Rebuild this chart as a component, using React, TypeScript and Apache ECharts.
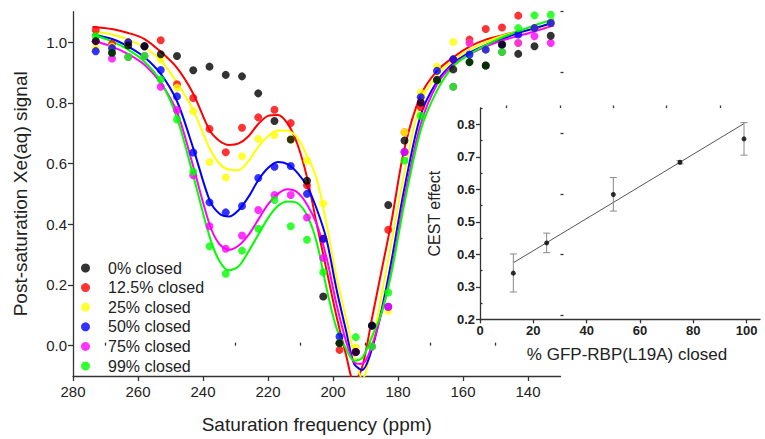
import React, { useEffect, useRef } from 'react';
import * as echarts from 'echarts';

const FONT = '"Liberation Sans", Arial, Helvetica, sans-serif';
const TXT = '#222';

// ---- Main chart: measured points (ppm) ----
const freq = [273, 268, 263, 258, 253, 248, 243, 238, 233, 228, 223, 218, 213, 208, 203, 198, 193, 188, 183, 178, 173, 168, 163, 158, 153, 148, 143, 138, 133];
const black0 = [1.003, 0.965, 0.989, 0.986, 0.960, 0.954, 0.907, 0.919, 0.892, 0.887, 0.831, 0.740, 0.679, 0.543, 0.162, 0.008, -0.021, 0.066, 0.463, 0.676, 0.801, 0.875, 0.910, 0.934, 0.923, 0.992, 0.961, 0.986, 1.021];
const red12 = [1.040, 0.994, 0.999, 0.986, 1.006, 0.861, 0.816, 0.714, 0.637, 0.718, 0.752, 0.777, 0.733, 0.528, 0.352, -0.014, -0.021, 0.066, 0.382, 0.703, 0.785, 0.875, 0.943, 1.008, 1.043, 1.048, 1.087, 1.046, 1.063];
const yellow25 = [0.981, 0.985, 0.995, 0.986, 0.943, 0.850, 0.772, 0.605, 0.554, 0.624, 0.681, 0.694, 0.679, 0.610, 0.468, 0.008, -0.006, 0.066, 0.115, 0.703, 0.834, 0.919, 1.000, 0.997, 0.975, 0.992, 0.997, 1.046, 1.063];
const blue50 = [0.970, 0.980, 0.999, 0.986, 0.908, 0.821, 0.636, 0.472, 0.439, 0.460, 0.552, 0.589, 0.592, 0.500, 0.352, 0.030, -0.021, 0.066, 0.128, 0.638, 0.818, 0.905, 0.943, 0.959, 0.975, 0.992, 1.025, 1.046, 1.063];
const magenta75 = [1.003, 0.946, 0.951, 0.954, 0.853, 0.776, 0.561, 0.393, 0.319, 0.363, 0.447, 0.496, 0.496, 0.422, 0.289, 0.008, -0.021, -0.003, 0.128, 0.638, 0.801, 0.875, 0.853, 0.997, 0.923, 0.967, 0.997, 1.019, 0.997];
const green99 = [1.019, 0.965, 0.951, 0.954, 0.877, 0.745, 0.573, 0.327, 0.237, 0.313, 0.385, 0.480, 0.393, 0.349, 0.242, 0.008, 0.028, -0.003, 0.175, 0.610, 0.757, 0.875, 0.853, 0.934, 0.923, 0.967, 1.046, 1.088, 1.090];

// ---- Main chart: fitted curves ----
const fitFreq = [274, 268, 263, 258, 253, 248, 243, 238, 235, 232, 229, 226, 223, 220, 217, 214, 211, 208, 205, 202, 199, 196, 193.5, 191, 188, 185, 182, 178, 173, 168, 163, 158, 153, 148, 143, 138, 132];
const fitRed = [1.050, 1.043, 1.030, 1.010, 0.968, 0.915, 0.830, 0.710, 0.675, 0.661, 0.666, 0.690, 0.730, 0.757, 0.760, 0.732, 0.665, 0.555, 0.400, 0.250, 0.100, -0.030, -0.120, -0.070, 0.090, 0.250, 0.410, 0.650, 0.825, 0.905, 0.950, 0.985, 1.008, 1.022, 1.035, 1.045, 1.055];
const fitYellow = [1.035, 1.025, 1.008, 0.982, 0.940, 0.866, 0.775, 0.650, 0.600, 0.580, 0.578, 0.608, 0.655, 0.690, 0.709, 0.708, 0.685, 0.625, 0.550, 0.400, 0.230, 0.090, -0.030, -0.110, 0.000, 0.170, 0.340, 0.570, 0.800, 0.890, 0.940, 0.975, 1.000, 1.020, 1.035, 1.045, 1.055];
const fitBlue = [1.025, 1.010, 0.985, 0.950, 0.895, 0.805, 0.650, 0.480, 0.435, 0.425, 0.447, 0.490, 0.545, 0.585, 0.605, 0.598, 0.570, 0.525, 0.450, 0.350, 0.190, 0.050, -0.060, -0.080, -0.010, 0.120, 0.280, 0.520, 0.760, 0.870, 0.930, 0.965, 0.990, 1.010, 1.030, 1.045, 1.065];
const fitMagenta = [1.005, 0.985, 0.960, 0.925, 0.865, 0.770, 0.590, 0.400, 0.335, 0.316, 0.330, 0.365, 0.415, 0.465, 0.500, 0.515, 0.505, 0.465, 0.400, 0.290, 0.140, 0.015, -0.055, -0.060, 0.000, 0.110, 0.250, 0.490, 0.730, 0.860, 0.925, 0.960, 0.985, 1.005, 1.020, 1.035, 1.055];
const fitGreen = [1.025, 1.002, 0.975, 0.935, 0.870, 0.750, 0.560, 0.360, 0.280, 0.248, 0.262, 0.310, 0.365, 0.420, 0.460, 0.475, 0.470, 0.430, 0.340, 0.190, 0.060, -0.010, -0.050, -0.040, 0.030, 0.110, 0.240, 0.470, 0.710, 0.840, 0.920, 0.960, 0.990, 1.015, 1.035, 1.055, 1.075];

const xTicks = [280, 260, 240, 220, 200, 180, 160, 140];
const xMinor = [270, 250, 230, 210, 190, 170, 150];
const yTicks = [0, 0.2, 0.4, 0.6, 0.8, 1.0];
const yMinor = [0.1, 0.3, 0.5, 0.7, 0.9, 1.1];

// ---- Inset ----
const pct = [12.5, 25, 50, 75, 99];
const cest = [0.342, 0.435, 0.584, 0.683, 0.755];
const cestLow = [0.284, 0.405, 0.533, 0.678, 0.705];
const cestHigh = [0.401, 0.465, 0.636, 0.688, 0.805];
const fitPct = [12.5, 99];
const fitCest = [0.374, 0.802];
const insetXTicks = [0, 20, 40, 60, 80, 100];
const insetXMinor = [10, 30, 50, 70, 90];
const insetYTicks = [0.2, 0.3, 0.4, 0.5, 0.6, 0.7, 0.8];
const insetYMinor = [0.25, 0.35, 0.45, 0.55, 0.65, 0.75, 0.85];

const seriesDefs = [
  { name: '0% closed', color: '#000000', pts: black0, fit: null as number[] | null },
  { name: '12.5% closed', color: '#ff0000', pts: red12, fit: fitRed },
  { name: '25% closed', color: '#ffff00', pts: yellow25, fit: fitYellow },
  { name: '50% closed', color: '#0000ff', pts: blue50, fit: fitBlue },
  { name: '75% closed', color: '#ff00ff', pts: magenta75, fit: fitMagenta },
  { name: '99% closed', color: '#00ff00', pts: green99, fit: fitGreen },
];

export default function App() {
  const ref = useRef<HTMLDivElement>(null);
  useEffect(() => {
    if (!ref.current) return;
    const chart = echarts.init(ref.current, undefined, { renderer: 'svg' });
    const axisLineStyle = { color: '#333', width: 1.3 };

    const lineSeries: any[] = seriesDefs
      .filter((s) => s.fit)
      .map((s) => ({
        type: 'line',
        name: s.name + ' fit',
        xAxisIndex: 0,
        yAxisIndex: 0,
        data: fitFreq.map((f, i) => [f, (s.fit as number[])[i]]),
        smooth: 0.3,
        showSymbol: false,
        symbol: 'none',
        lineStyle: { color: s.color, width: 2 },
        clip: true,
        z: 2,
      }));

    const drawOrder = [1, 2, 3, 4, 5, 0];
    const scatterSeries: any[] = drawOrder.map((idx) => {
      const s = seriesDefs[idx];
      return {
        type: 'scatter',
        name: s.name,
        xAxisIndex: 0,
        yAxisIndex: 0,
        data: freq.map((f, i) => [f, s.pts[i]]),
        symbol: 'circle',
        symbolSize: 8,
        itemStyle: { color: s.color },
        z: 3,
      };
    });

    const option: any = {
      animation: false,
      backgroundColor: '#ffffff',
      textStyle: { fontFamily: FONT },
      grid: [
        { left: 73, top: 11.7, width: 487.5, height: 367.2, containLabel: false },
        { left: 480, top: 108, width: 280, height: 211.3, containLabel: false },
      ],
      legend: {
        orient: 'vertical',
        left: 76,
        top: 255,
        itemWidth: 9,
        itemHeight: 9,
        itemGap: 3.6,
        icon: 'circle',
        selectedMode: false,
        data: seriesDefs.map((s) => s.name),
        textStyle: { fontSize: 16, color: TXT, fontFamily: FONT, padding: [0, 0, 0, 13], lineHeight: 16 },
      },
      xAxis: [
        {
          type: 'value', gridIndex: 0, min: 130, max: 280, inverse: true,
          name: 'Saturation frequency (ppm)', nameLocation: 'middle', nameGap: 39,
          nameTextStyle: { fontSize: 19, color: TXT, fontFamily: FONT },
          axisLine: { show: true, onZero: false, lineStyle: axisLineStyle },
          axisTick: { show: true, inside: false, length: 5, customValues: xTicks, lineStyle: axisLineStyle },
          axisLabel: { show: true, customValues: xTicks, fontSize: 15, color: TXT, margin: 8, fontFamily: FONT },
          splitLine: { show: false },
        },
        {
          type: 'value', gridIndex: 0, min: 130, max: 280, inverse: true,
          axisLine: { show: false },
          axisTick: { show: true, inside: false, length: 3, customValues: xMinor, lineStyle: axisLineStyle },
          axisLabel: { show: false },
          splitLine: { show: false },
        },
        {
          type: 'value', gridIndex: 1, min: 0, max: 105,
          name: '% GFP-RBP(L19A) closed', nameLocation: 'middle', nameGap: 27,
          nameTextStyle: { fontSize: 17, color: TXT, fontFamily: FONT, padding: [0, 0, 0, 14] },
          axisLine: { show: true, onZero: false, lineStyle: axisLineStyle },
          axisTick: { show: true, inside: false, length: 4, customValues: insetXTicks, lineStyle: axisLineStyle },
          axisLabel: { show: true, customValues: insetXTicks, fontSize: 13, fontWeight: 'bold', color: TXT, margin: 5, fontFamily: FONT },
          splitLine: { show: false },
        },
        {
          type: 'value', gridIndex: 1, min: 0, max: 105,
          axisLine: { show: false },
          axisTick: { show: true, inside: false, length: 2.5, customValues: insetXMinor, lineStyle: axisLineStyle },
          axisLabel: { show: false },
          splitLine: { show: false },
        },
      ],
      yAxis: [
        {
          type: 'value', gridIndex: 0, min: -0.1, max: 1.1,
          name: 'Post-saturation Xe(aq) signal', nameLocation: 'middle', nameGap: 43,
          nameTextStyle: { fontSize: 19, color: TXT, fontFamily: FONT },
          axisLine: { show: true, onZero: false, lineStyle: axisLineStyle },
          axisTick: { show: true, inside: false, length: 5, customValues: yTicks, lineStyle: axisLineStyle },
          axisLabel: { show: true, customValues: yTicks, fontSize: 15, color: TXT, margin: 6, fontFamily: FONT, formatter: (v: number) => v.toFixed(1) },
          splitLine: { show: false },
        },
        {
          type: 'value', gridIndex: 0, min: -0.1, max: 1.1,
          axisLine: { show: false },
          axisTick: { show: true, inside: false, length: 3, customValues: yMinor, lineStyle: axisLineStyle },
          axisLabel: { show: false },
          splitLine: { show: false },
        },
        {
          type: 'value', gridIndex: 1, min: 0.2, max: 0.85,
          name: 'CEST effect', nameLocation: 'middle', nameGap: 38,
          nameTextStyle: { fontSize: 16, color: TXT, fontFamily: FONT },
          axisLine: { show: true, onZero: false, lineStyle: axisLineStyle },
          axisTick: { show: true, inside: false, length: 4, customValues: insetYTicks, lineStyle: axisLineStyle },
          axisLabel: { show: true, customValues: insetYTicks, fontSize: 13, fontWeight: 'bold', color: TXT, margin: 5, fontFamily: FONT, formatter: (v: number) => v.toFixed(1) },
          splitLine: { show: false },
        },
        {
          type: 'value', gridIndex: 1, min: 0.2, max: 0.85,
          axisLine: { show: false },
          axisTick: { show: true, inside: false, length: 2.5, customValues: insetYMinor, lineStyle: axisLineStyle },
          axisLabel: { show: false },
          splitLine: { show: false },
        },
      ],
      series: [
        ...lineSeries,
        ...scatterSeries,
        {
          type: 'line',
          name: 'linear fit',
          xAxisIndex: 2,
          yAxisIndex: 2,
          data: fitPct.map((p, i) => [p, fitCest[i]]),
          symbol: 'none',
          lineStyle: { color: '#555', width: 1 },
          z: 2,
        },
        {
          type: 'custom',
          name: 'error bars',
          xAxisIndex: 2,
          yAxisIndex: 2,
          data: pct.map((p, i) => [p, cest[i], cestLow[i], cestHigh[i]]),
          encode: { x: 0, y: 1 },
          renderItem: (params: any, api: any) => {
            const x = api.value(0);
            const lo = api.coord([x, api.value(2)]);
            const hi = api.coord([x, api.value(3)]);
            const w = 3.5;
            const st = { stroke: '#8a8a8a', lineWidth: 1 };
            return {
              type: 'group',
              children: [
                { type: 'line', shape: { x1: hi[0], y1: hi[1], x2: lo[0], y2: lo[1] }, style: st },
                { type: 'line', shape: { x1: hi[0] - w, y1: hi[1], x2: hi[0] + w, y2: hi[1] }, style: st },
                { type: 'line', shape: { x1: lo[0] - w, y1: lo[1], x2: lo[0] + w, y2: lo[1] }, style: st },
              ],
            };
          },
          z: 3,
        },
        {
          type: 'scatter',
          name: 'CEST',
          xAxisIndex: 2,
          yAxisIndex: 2,
          data: pct.map((p, i) => [p, cest[i]]),
          symbol: 'circle',
          symbolSize: 5,
          itemStyle: { color: '#000' },
          z: 4,
        },
      ],
    };
    chart.setOption(option);
    return () => chart.dispose();
  }, []);
  return <div ref={ref} style={{ position: 'fixed', left: 0, top: 0, width: 765, height: 439, background: '#fff' }} />;
}
